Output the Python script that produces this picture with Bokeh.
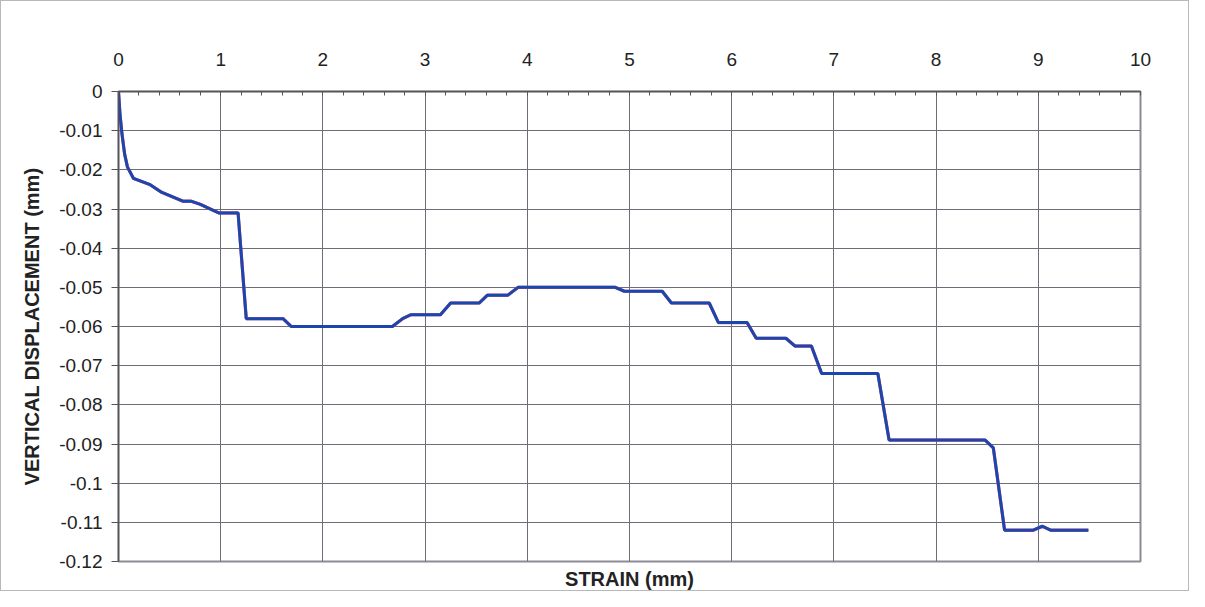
from bokeh.plotting import figure
from bokeh.models import FixedTicker, LinearAxis, Range1d
from bokeh.embed import file_html
from bokeh.resources import INLINE

strain = [0, 0.015, 0.035, 0.06, 0.088, 0.147, 0.31, 0.42, 0.63, 0.71, 0.80, 0.98, 1.17,
          1.25, 1.61, 1.69, 2.68, 2.78, 2.86, 3.15, 3.25, 3.53, 3.61, 3.81, 3.91, 4.86,
          4.95, 5.32, 5.41, 5.78, 5.87, 6.15, 6.24, 6.53, 6.62, 6.78, 6.88, 7.43, 7.54,
          8.48, 8.56, 8.67, 8.95, 9.04, 9.12, 9.49]
displacement = [0, -0.006, -0.011, -0.016, -0.0193, -0.0222, -0.0238, -0.0257, -0.028,
                -0.028, -0.0288, -0.031, -0.031, -0.058, -0.058, -0.060, -0.060, -0.058,
                -0.057, -0.057, -0.054, -0.054, -0.052, -0.052, -0.050, -0.050, -0.051,
                -0.051, -0.054, -0.054, -0.059, -0.059, -0.063, -0.063, -0.065, -0.065,
                -0.072, -0.072, -0.089, -0.089, -0.091, -0.112, -0.112, -0.111, -0.112,
                -0.112]

x_ticks = [0, 1, 2, 3, 4, 5, 6, 7, 8, 9, 10]
x_minor = [i / 5 for i in range(51)]
y_ticks = [0, -0.01, -0.02, -0.03, -0.04, -0.05, -0.06, -0.07, -0.08, -0.09, -0.1, -0.11, -0.12]
y_tick_labels = ["0", "-0.01", "-0.02", "-0.03", "-0.04", "-0.05", "-0.06", "-0.07",
                 "-0.08", "-0.09", "-0.1", "-0.11", "-0.12"]

FONT = "Liberation Sans"

p = figure(width=1189, height=591, output_backend="svg", toolbar_location=None,
           x_axis_location="above", x_range=Range1d(0, 10), y_range=Range1d(-0.12, 0),
           min_border_left=117, min_border_right=50, min_border_top=90, min_border_bottom=30)
p.styles = {"border": "1px solid #b8b8b8"}
p.background_fill_color = "white"
p.border_fill_color = "white"
p.outline_line_color = "#8c8c96"
p.outline_line_width = 2

# top axis
xa = p.xaxis[0]
xa.ticker = FixedTicker(ticks=x_ticks, minor_ticks=x_minor)
xa.major_tick_out = 0
xa.major_tick_in = 0
xa.minor_tick_in = 4
xa.minor_tick_out = 0
xa.minor_tick_line_color = "#555555"
xa.axis_line_color = "#555555"
xa.axis_line_width = 1.5
xa.major_label_standoff = 26
xa.major_label_text_font = FONT
xa.major_label_text_font_size = "19px"
xa.major_label_text_color = "#222222"

# left axis
ya = p.yaxis[0]
ya.ticker = FixedTicker(ticks=y_ticks)
ya.major_label_overrides = {t: l for t, l in zip(y_ticks, y_tick_labels)}
ya.major_tick_out = 7
ya.major_tick_in = 0
ya.minor_tick_out = 0
ya.minor_tick_in = 0
ya.major_tick_line_color = "#555555"
ya.axis_line_color = "#555555"
ya.axis_line_width = 1.5
ya.major_label_standoff = 9
ya.major_label_text_font = FONT
ya.major_label_text_font_size = "19px"
ya.major_label_text_color = "#222222"
ya.axis_label = "VERTICAL DISPLACEMENT (mm)"
ya.axis_label_text_font = FONT
ya.axis_label_text_font_size = "20px"
ya.axis_label_text_font_style = "bold"
ya.axis_label_text_color = "#222222"
ya.axis_label_standoff = 13

# bottom axis carrying only the title
xb = LinearAxis(ticker=FixedTicker(ticks=[]), axis_label="STRAIN (mm)")
xb.axis_line_color = None
xb.major_tick_line_color = None
xb.minor_tick_line_color = None
xb.axis_label_text_font = FONT
xb.axis_label_text_font_size = "20px"
xb.axis_label_text_font_style = "bold"
xb.axis_label_text_color = "#222222"
xb.axis_label_standoff = 6
p.add_layout(xb, "below")

p.xgrid.grid_line_color = "#6e6e78"
p.xgrid.grid_line_width = 1
p.ygrid.grid_line_color = "#6e6e78"
p.ygrid.grid_line_width = 1

p.line(strain, displacement, line_color="#e0508a", line_width=3.2)
p.line(strain, displacement, line_color="#1b47ac", line_width=3)

open("out.html", "w").write(file_html(p, INLINE))
